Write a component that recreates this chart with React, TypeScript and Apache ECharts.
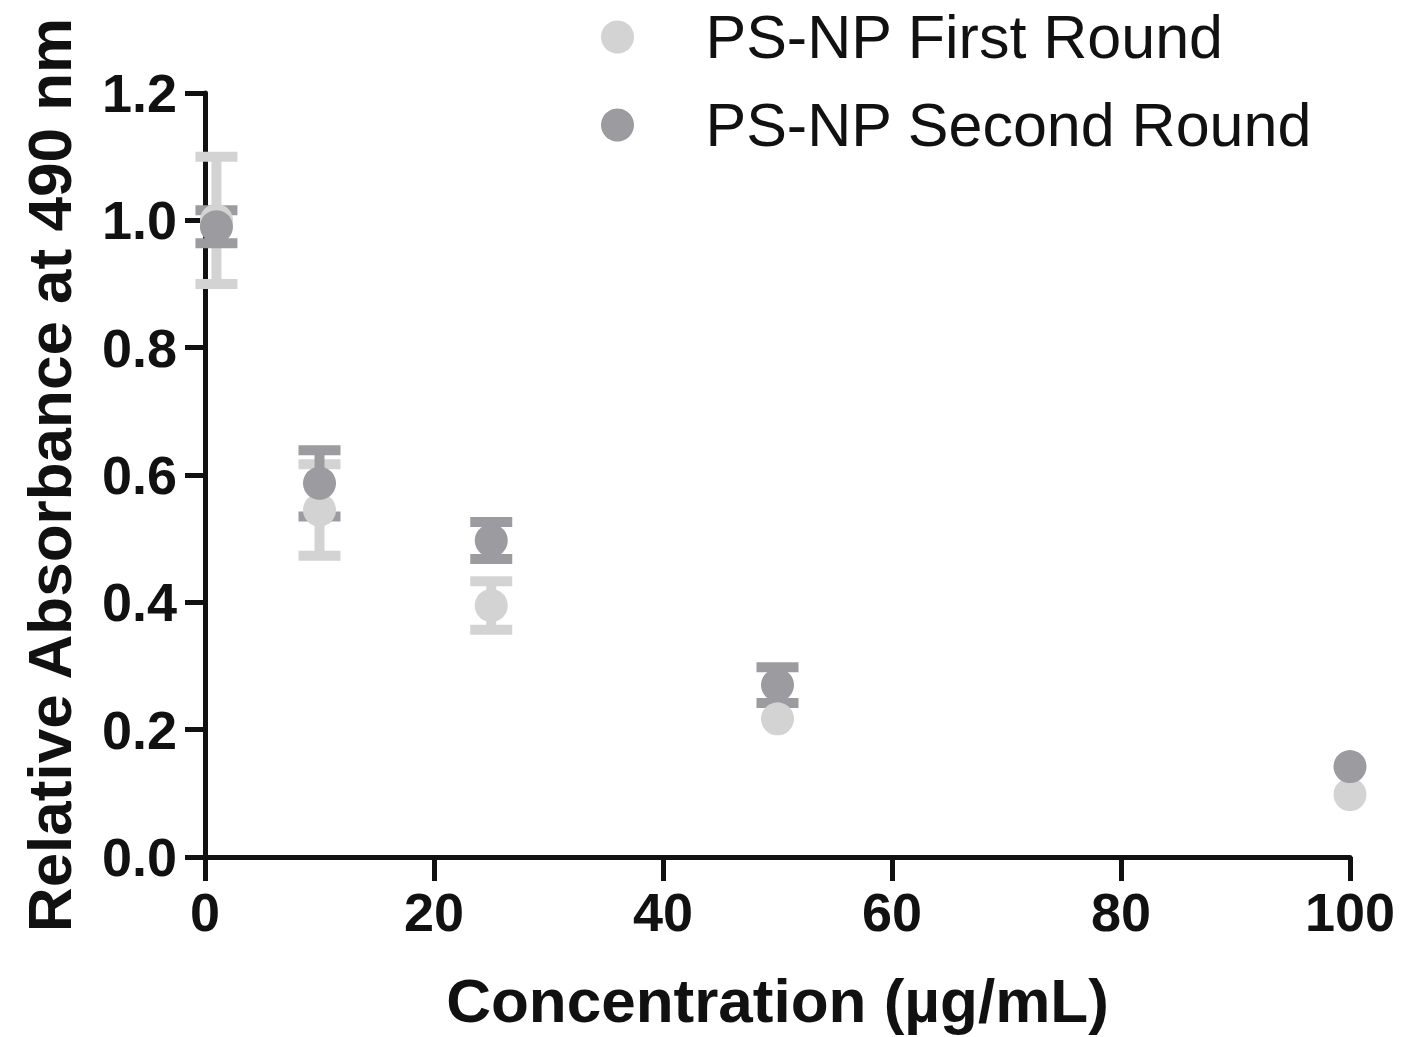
import React, { useEffect, useRef } from "react";
import * as echarts from "echarts";

const concentrations = [1, 10, 25, 50, 100];
const firstMean = [1.0, 0.545, 0.395, 0.217, 0.098];
const firstErr = [0.1, 0.072, 0.038, 0, 0];
const secondMean = [0.99, 0.587, 0.497, 0.27, 0.142];
const secondErr = [0.026, 0.052, 0.029, 0.028, 0];
const seriesNames = ["PS-NP First Round", "PS-NP Second Round"];
const seriesColors = ["#d3d3d3", "#9c9ca0"];
const xTicks = { min: 0, max: 100, interval: 20 };
const yTicks = { min: 0, max: 1.2, interval: 0.2 };
const xTitle = "Concentration (µg/mL)";
const yTitle = "Relative Absorbance at 490 nm";

const FONT = '"Liberation Sans", Arial, sans-serif';

function errorSeries(name: string, means: number[], errs: number[], color: string) {
  return {
    name,
    type: "custom",
    data: concentrations.map((x, i) => [x, means[i], errs[i]]),
    renderItem: (_params: any, api: any) => {
      const x = api.value(0);
      const m = api.value(1);
      const e = api.value(2);
      if (!e) return { type: "group", children: [] };
      const top = api.coord([x, m + e]);
      const bot = api.coord([x, m - e]);
      const half = 21;
      const style = { stroke: color, lineWidth: 10, fill: "none" };
      return {
        type: "group",
        children: [
          { type: "line", shape: { x1: top[0], y1: top[1], x2: bot[0], y2: bot[1] }, style },
          { type: "line", shape: { x1: top[0] - half, y1: top[1], x2: top[0] + half, y2: top[1] }, style },
          { type: "line", shape: { x1: bot[0] - half, y1: bot[1], x2: bot[0] + half, y2: bot[1] }, style },
        ],
      };
    },
    silent: true,
  };
}

function scatterSeries(name: string, means: number[], color: string) {
  return {
    name,
    type: "scatter",
    symbol: "circle",
    symbolSize: 33,
    itemStyle: { color, opacity: 1 },
    data: concentrations.map((x, i) => [x, means[i]]),
  };
}

export default function App() {
  const ref = useRef<HTMLDivElement>(null);
  useEffect(() => {
    if (!ref.current) return;
    const chart = echarts.init(ref.current, undefined, { renderer: "svg" });
    const axisLine = { show: true, lineStyle: { color: "#111", width: 5 } };
    chart.setOption({
      animation: false,
      backgroundColor: "#ffffff",
      grid: { left: 205, right: 56, top: 93, bottom: 180, containLabel: false },
      legend: {
        orient: "vertical",
        left: 596,
        top: 0,
        icon: "circle",
        itemWidth: 166,
        itemHeight: 33,
        itemGap: 24,
        data: seriesNames,
        textStyle: { fontFamily: FONT, fontSize: 61, color: "#111", lineHeight: 64 },
        selectedMode: false,
      },
      xAxis: {
        type: "value",
        min: xTicks.min,
        max: xTicks.max,
        interval: xTicks.interval,
        name: xTitle,
        nameLocation: "middle",
        nameGap: 112,
        nameTextStyle: { fontFamily: FONT, fontSize: 62, fontWeight: "bold", color: "#111" },
        axisLine,
        axisTick: { show: true, length: 24, lineStyle: { color: "#111", width: 5 } },
        axisLabel: { fontFamily: FONT, fontSize: 54, fontWeight: "bold", color: "#111", margin: 28 },
        splitLine: { show: false },
      },
      yAxis: {
        type: "value",
        min: yTicks.min,
        max: yTicks.max,
        interval: yTicks.interval,
        name: yTitle,
        nameLocation: "middle",
        nameRotate: 90,
        nameGap: 125,
        nameTextStyle: { fontFamily: FONT, fontSize: 62, fontWeight: "bold", color: "#111" },
        axisLine,
        axisTick: { show: true, length: 20, lineStyle: { color: "#111", width: 5 } },
        axisLabel: {
          fontFamily: FONT,
          fontSize: 54,
          fontWeight: "bold",
          color: "#111",
          margin: 28,
          formatter: (v: number) => v.toFixed(1),
        },
        splitLine: { show: false },
      },
      series: [
        errorSeries("err1", firstMean, firstErr, seriesColors[0]),
        scatterSeries(seriesNames[0], firstMean, seriesColors[0]),
        errorSeries("err2", secondMean, secondErr, seriesColors[1]),
        scatterSeries(seriesNames[1], secondMean, seriesColors[1]),
      ],
    });
    return () => chart.dispose();
  }, []);
  return (
    <div
      ref={ref}
      style={{ position: "fixed", left: 0, top: 0, width: 1406, height: 1037, background: "#fff" }}
    />
  );
}
